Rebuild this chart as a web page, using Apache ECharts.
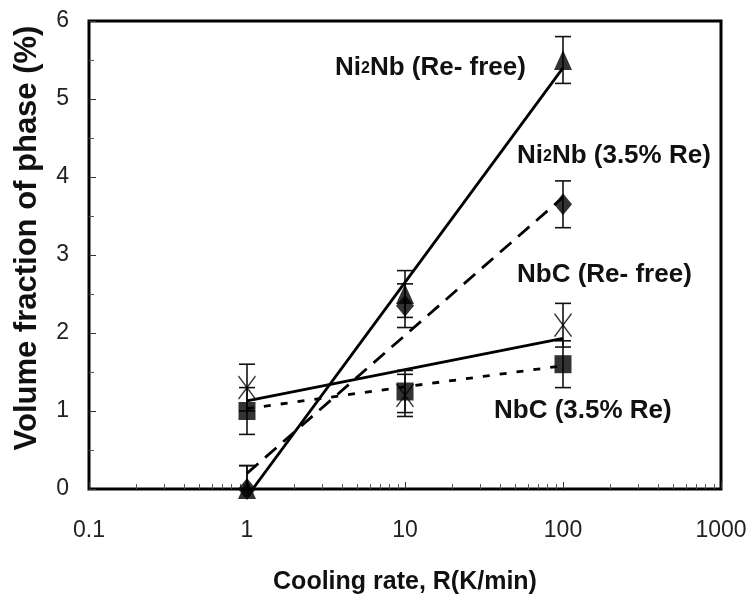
<!DOCTYPE html>
<html><head><meta charset="utf-8">
<script src="https://cdn.jsdelivr.net/npm/echarts@6/dist/echarts.min.js"></script>
<style>html,body{margin:0;padding:0;background:#fff}#c{width:753px;height:604px}</style>
</head><body><div id="c"></div>
<script>
// Data
const rates = [1, 10, 100];
const ni2nbReFree = [0, 2.5, 5.5];
const ni2nbReFreeErr = [0.3, 0.3, 0.3];
const ni2nbRe = [0, 2.35, 3.65];
const ni2nbReErr = [0.3, 0.28, 0.3];
const nbcReFree = [1.3, 1.2, 2.1];
const nbcReFreeErr = [0.3, 0.27, 0.28];
const nbcRe = [1.0, 1.25, 1.6];
const nbcReErr = [0.3, 0.27, 0.3];
// trend (fit) lines evaluated at rates
const trendNi2nbReFree = [-0.1, 2.65, 5.4];
const trendNi2nbRe = [0.2, 1.97, 3.74];
const trendNbcReFree = [1.13, 1.53, 1.93];
const trendNbcRe = [1.03, 1.31, 1.58];
const xTicks = [0.1, 1, 10, 100, 1000];
const yTicks = [0, 1, 2, 3, 4, 5, 6];

const FONT = 'Liberation Sans, Arial, sans-serif';
const chart = echarts.init(document.getElementById('c'));

function pairs(ys){ return rates.map((x,i)=>[x, ys[i]]); }
function errData(ys, es){ return rates.map((x,i)=>[x, ys[i]-es[i], ys[i]+es[i]]); }

function errSeries(ys, es){
  return {
    type:'custom', data: errData(ys, es), z: 3, clip:true,
    renderItem: function(params, api){
      const lo = api.coord([api.value(0), api.value(1)]);
      const hi = api.coord([api.value(0), api.value(2)]);
      const w = 8;
      const st = {stroke:'#111', lineWidth:1.6};
      return {type:'group', children:[
        {type:'line', shape:{x1:lo[0],y1:lo[1],x2:hi[0],y2:hi[1]}, style:st},
        {type:'line', shape:{x1:lo[0]-w,y1:lo[1],x2:lo[0]+w,y2:lo[1]}, style:st},
        {type:'line', shape:{x1:hi[0]-w,y1:hi[1],x2:hi[0]+w,y2:hi[1]}, style:st}
      ]};
    }
  };
}
function trend(ys, type){
  return {type:'line', data:pairs(ys), symbol:'none', z:4,
    lineStyle:{color:'#000', width:2.8, type:type}};
}
const richStyle = {
  a:{fontFamily:FONT, fontWeight:'bold', fontSize:26, fill:'#111', lineHeight:30},
  s:{fontFamily:FONT, fontWeight:'bold', fontSize:16, fill:'#111', lineHeight:30, verticalAlign:'bottom', padding:[0,0,6,0]}
};

const option = {
  animation:false,
  backgroundColor:'#fff',
  grid:{left:89, top:21, right:32, bottom:115, show:true, borderColor:'#000', borderWidth:3, backgroundColor:'transparent'},
  xAxis:{
    type:'log', logBase:10, min:0.1, max:1000,
    name:'Cooling rate, R(K/min)', nameLocation:'middle', nameGap:81,
    nameTextStyle:{fontFamily:FONT, fontWeight:'bold', fontSize:25, color:'#111'},
    axisLine:{show:false},
    axisTick:{show:true, inside:true, length:7, lineStyle:{color:'#333', width:1}},
    minorTick:{show:true, splitNumber:9, length:5, lineStyle:{color:'#555', width:1}},
    splitLine:{show:false},
    axisLabel:{fontFamily:FONT, fontSize:23, color:'#222', margin:30,
      formatter: v => xTicks.indexOf(v) >= 0 ? String(v) : ''}
  },
  yAxis:{
    type:'value', min:0, max:6, interval:1,
    axisLine:{show:false},
    axisTick:{show:true, inside:true, length:7, lineStyle:{color:'#333', width:1}},
    minorTick:{show:true, splitNumber:2, length:5, lineStyle:{color:'#555', width:1}},
    splitLine:{show:false},
    axisLabel:{fontFamily:FONT, fontSize:23, color:'#222', margin:20,
      formatter: v => yTicks.indexOf(v) >= 0 ? String(v) : ''}
  },
  series:[
    trend(trendNi2nbReFree, 'solid'),
    trend(trendNi2nbRe, [15, 9]),
    trend(trendNbcReFree, 'solid'),
    trend(trendNbcRe, [7, 10]),
    errSeries(nbcReFree, nbcReFreeErr),
    errSeries(nbcRe, nbcReErr),
    errSeries(ni2nbRe, ni2nbReErr),
    errSeries(ni2nbReFree, ni2nbReFreeErr),
    {type:'scatter', data:pairs(nbcReFree), clip:false, z:5,
      symbol:'path://M0,0L10,12M10,0L0,12', symbolSize:[17,23],
      itemStyle:{color:'none', borderColor:'#000', borderWidth:1.4}},
    {type:'scatter', data:pairs(nbcRe), clip:false, z:6, symbol:'rect', symbolSize:[17,18],
      itemStyle:{color:'#000'}},
    {type:'scatter', data:pairs(ni2nbRe), clip:false, z:6, symbol:'diamond', symbolSize:[18,22],
      itemStyle:{color:'#000'}},
    {type:'scatter', data:pairs(ni2nbReFree), clip:false, z:7, symbol:'triangle', symbolSize:[18,20],
      itemStyle:{color:'#000'}}
  ],
  graphic:[
    {type:'text', x:27, y:238, rotation:Math.PI/2,
      style:{text:'Volume fraction of phase (%)', fontFamily:FONT, fontWeight:'bold', fontSize:31, fill:'#111', align:'center', verticalAlign:'middle'}},
    {type:'text', left:335, top:55, style:{rich:richStyle, text:'{a|Ni}{s|2}{a|Nb (Re- free)}'}},
    {type:'text', left:517, top:143, style:{rich:richStyle, text:'{a|Ni}{s|2}{a|Nb (3.5% Re)}'}},
    {type:'text', left:517, top:262, style:{text:'NbC (Re- free)', fontFamily:FONT, fontWeight:'bold', fontSize:26, fill:'#111'}},
    {type:'text', left:494, top:398, style:{text:'NbC (3.5% Re)', fontFamily:FONT, fontWeight:'bold', fontSize:26, fill:'#111'}}
  ]
};
chart.setOption(option);
</script></body></html>
